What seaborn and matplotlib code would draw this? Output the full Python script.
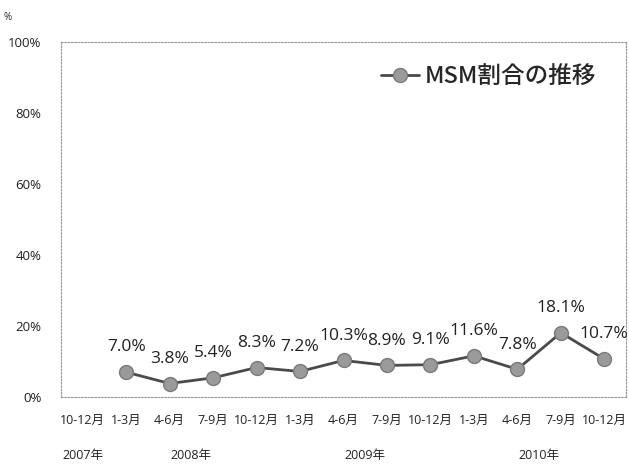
import matplotlib
matplotlib.use("Agg")
import matplotlib.pyplot as plt
import matplotlib.transforms as mtransforms
import seaborn as sns
import pandas as pd
import numpy as np

# ---- data ----
quarters = ["10-12月", "1-3月", "4-6月", "7-9月", "10-12月", "1-3月", "4-6月",
            "7-9月", "10-12月", "1-3月", "4-6月", "7-9月", "10-12月"]
values = [np.nan, 7.0, 3.8, 5.4, 8.3, 7.2, 10.3, 8.9, 9.1, 11.6, 7.8, 18.1, 10.7]
years = ["2007年", "2008年", "2009年", "2010年"]
year_first = [0, 1, 5, 9]
year_last = [0, 4, 8, 12]
series_name = "MSM割合の推移"
yticks = [0, 20, 40, 60, 80, 100]

sns.set_theme(style="white")
plt.rcParams["font.family"] = ["Open Sans", "Noto Sans CJK JP", "DejaVu Sans"]

df = pd.DataFrame({"pos": np.arange(len(quarters)), "value": values}).dropna()

fig = plt.figure(figsize=(6.29, 4.65), dpi=100)
ax = fig.add_axes([61 / 629, 1 - 397 / 465, (626 - 61) / 629, (397 - 42) / 465])

sns.lineplot(data=df, x="pos", y="value", ax=ax, color="#4a4a4a", linewidth=2.0,
             marker="o", markersize=10, markerfacecolor="#9a9a9a",
             markeredgecolor="#7a7a7a", markeredgewidth=1.0, label=series_name)

for x, v in zip(df["pos"], df["value"]):
    ax.annotate(f"{v:.1f}%", (x, v), xytext=(0, 12), textcoords="offset points",
                ha="center", va="bottom", fontsize=12.5, color="#222222")

ax.set_xlim(-0.5, len(quarters) - 0.5)
ax.set_ylim(0, 100)
ax.set_xticks(range(len(quarters)))
ax.set_xticklabels(quarters, fontsize=9, color="#222222")
ax.set_yticks(yticks)
ax.set_yticklabels([f"{t}%" for t in yticks], fontsize=9.5, color="#222222")
ax.tick_params(axis="x", length=0, pad=12)
ax.tick_params(axis="y", length=0, pad=14)
ax.set_xlabel("")
ax.set_ylabel("")

for side, sp in ax.spines.items():
    sp.set_visible(True)
    sp.set_color("#9a9a9a")
    sp.set_linewidth(0.8)
    sp.set_linestyle((0, (1.5, 1.5)))

trans = mtransforms.blended_transform_factory(ax.transData, ax.transAxes)
for name, a, b in zip(years, year_first, year_last):
    ax.text((a + b) / 2, -0.165, name, transform=trans, ha="center", va="center",
            fontsize=9, color="#222222")

fig.text(3 / 629, 1 - 17 / 465, "%", fontsize=7, color="#222222", ha="left", va="center")

leg = ax.legend(loc="upper right", bbox_to_anchor=(0.985, 0.995), frameon=False,
                handlelength=1.6, handletextpad=0.25,
                prop={"family": ["Noto Sans CJK JP"], "size": 17, "weight": "medium"})

fig.savefig("out.png", dpi=100)
